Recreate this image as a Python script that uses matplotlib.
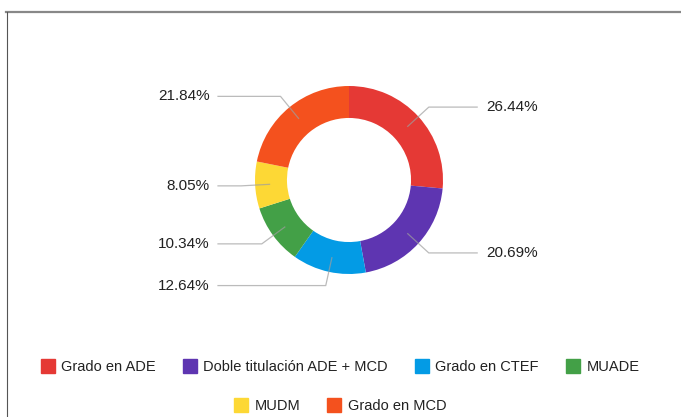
import numpy as np
import matplotlib.pyplot as plt
from matplotlib.lines import Line2D

plt.rcParams['font.family'] = ['Liberation Sans', 'DejaVu Sans']

categories = ['Grado en ADE', 'Doble titulación ADE + MCD', 'Grado en CTEF',
              'MUADE', 'MUDM', 'Grado en MCD']
shares = [26.44, 20.69, 12.64, 10.34, 8.05, 21.84]
colors = ['#E53935', '#5E35B1', '#039BE5', '#43A047', '#FDD835', '#F4511E']

W, H = 681, 417
cx, cy, R = 349, 180, 94  # pixel centre and radius of the donut

fig = plt.figure(figsize=(W / 100, H / 100), dpi=100)
ax = fig.add_axes([0, 0, 1, 1])

wedges, _ = ax.pie(shares, colors=colors, startangle=90, counterclock=False,
                   radius=1.0, wedgeprops=dict(width=0.34, linewidth=0))
ax.set_aspect('auto')
ax.set_xlim(-cx / R, (W - cx) / R)
ax.set_ylim(-(H - cy) / R, cy / R)
ax.axis('off')

# leader lines and percentage labels
total = sum(shares)
cum = 0
for w, s in zip(wedges, shares):
    mid = 90 - 360 * (cum + s / 2) / total
    cum += s
    a = np.deg2rad(mid)
    x0, y0 = 0.84 * np.cos(a), 0.84 * np.sin(a)
    x1, y1 = 1.15 * np.cos(a), 1.15 * np.sin(a)
    side = 1 if x1 > 0 else -1
    x2 = 1.37 if side > 0 else -1.40
    ax.plot([x0, x1, x2], [y0, y1, y1], color='#9e9e9e', lw=0.9, alpha=0.7,
            solid_capstyle='butt')
    tx = 1.46 if side > 0 else -1.48
    ax.text(tx, y1, f'{s:.2f}%', ha='left' if side > 0 else 'right',
            va='center', fontsize=11, color='#222222')

# legend in two centred rows
handles = [Line2D([], [], marker='s', linestyle='none', markersize=10,
                  markerfacecolor=c, markeredgecolor=c) for c in colors]
kw = dict(frameon=False, loc='center', fontsize=10.5, handlelength=0.9,
          handletextpad=0.45, columnspacing=1.9, borderpad=0, labelcolor='#222222')
fig.legend(handles[:4], categories[:4], ncol=4, bbox_to_anchor=(0.5, 1 - 367 / H), **kw)
fig.legend(handles[4:], categories[4:], ncol=2, bbox_to_anchor=(0.5, 1 - 406 / H), **kw)

# frame lines at top and left
fig.add_artist(Line2D([6 / W, 1], [1 - 12 / H, 1 - 12 / H], color='#888888', lw=1.6,
                      transform=fig.transFigure))
fig.add_artist(Line2D([7 / W, 7 / W], [0, 1 - 12 / H], color='#555555', lw=0.8,
                      transform=fig.transFigure))

fig.savefig('out.png', dpi=100)
